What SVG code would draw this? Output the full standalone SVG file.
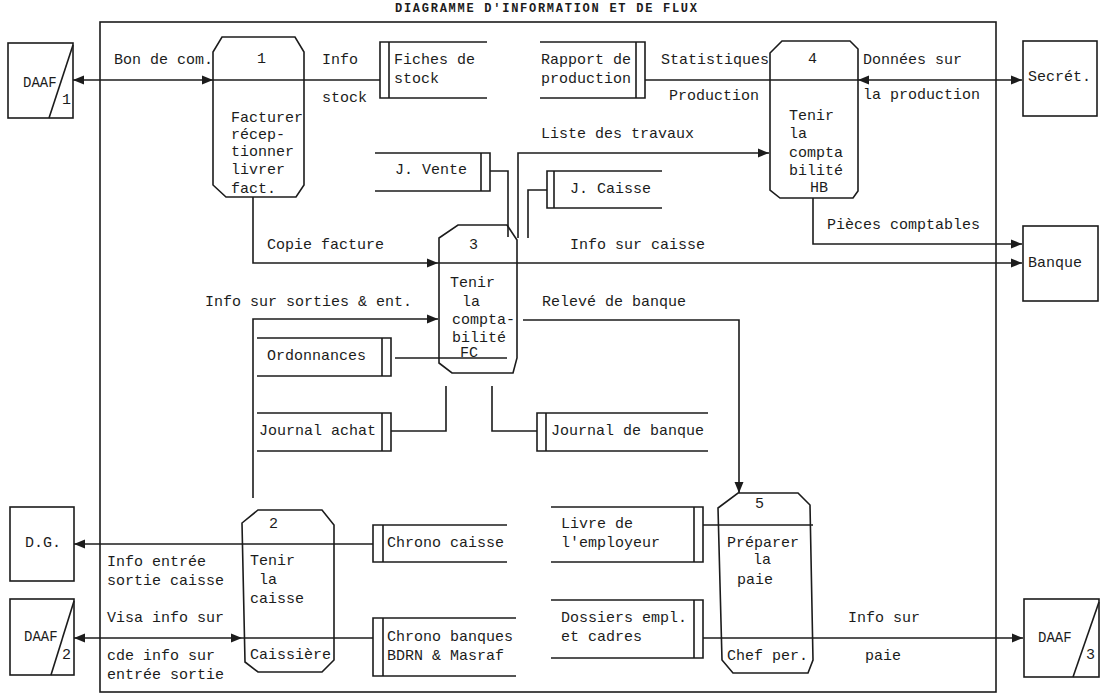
<svg xmlns="http://www.w3.org/2000/svg" width="1116" height="695" viewBox="0 0 1116 695">
<style>
.ln{fill:none;stroke:#1c1c1c;stroke-width:1.6}
.bx{fill:#fff;stroke:#1c1c1c;stroke-width:1.6}
.t{font-family:"Liberation Mono","DejaVu Sans Mono",monospace;font-size:15px;fill:#1c1c1c}
.ti{font-family:"Liberation Mono","DejaVu Sans Mono",monospace;font-size:12px;font-weight:bold;fill:#1c1c1c}
</style>
<defs>
<marker id="ah" markerUnits="userSpaceOnUse" markerWidth="12" markerHeight="10" refX="11" refY="5" orient="auto-start-reverse">
<path d="M0,0.5 L11,5 L0,9.5 Z" fill="#1c1c1c"/>
</marker>
</defs>
<rect width="1116" height="695" fill="#fff"/>
<text class="ti" x="395" y="12" textLength="302" lengthAdjust="spacing">DIAGRAMME D'INFORMATION ET DE FLUX</text>
<rect id="boundary" class="ln" x="100" y="22" width="896" height="670"/>

<g id="connectors">
<path class="ln" d="M73,80 H213" marker-start="url(#ah)" marker-end="url(#ah)"/>
<path class="ln" d="M213,80 H380"/>
<path class="ln" d="M645,80 H858"/>
<path class="ln" d="M858,80 H1022" marker-start="url(#ah)" marker-end="url(#ah)"/>
<path class="ln" d="M518,238 V153 H769" marker-end="url(#ah)"/>
<path class="ln" d="M490,171 H508 V237"/>
<path class="ln" d="M547,190 H528 V238"/>
<path class="ln" d="M253,197 V263 H438" marker-end="url(#ah)"/>
<path class="ln" d="M438,263 H1022" marker-end="url(#ah)"/>
<path class="ln" d="M813,198 V244 H1022" marker-end="url(#ah)"/>
<path class="ln" d="M253,498 V319 H438" marker-end="url(#ah)"/>
<path class="ln" d="M523,320 H739 V493" marker-end="url(#ah)"/>
<path class="ln" d="M395,358 H507"/>
<path class="ln" d="M391,431 H446 V386"/>
<path class="ln" d="M537,431 H492 V386"/>
<path class="ln" d="M373,544 H74" marker-end="url(#ah)"/>
<path class="ln" d="M373,638 H242"/>
<path class="ln" d="M242,638 H74" marker-start="url(#ah)" marker-end="url(#ah)"/>
<path class="ln" d="M703,525 H813"/>
<path class="ln" d="M703,638 H1023" marker-end="url(#ah)"/>
</g>

<g id="labels">
<text class="t" x="114" y="64">Bon de com.</text>
<text class="t" x="322" y="64">Info</text>
<text class="t" x="322" y="102">stock</text>
<text class="t" x="661" y="64">Statistiques</text>
<text class="t" x="669" y="100">Production</text>
<text class="t" x="863" y="64">Données sur</text>
<text class="t" x="863" y="99">la production</text>
<text class="t" x="541" y="138">Liste des travaux</text>
<text class="t" x="267" y="249">Copie facture</text>
<text class="t" x="570" y="249">Info sur caisse</text>
<text class="t" x="827" y="229">Pièces comptables</text>
<text class="t" x="205" y="306">Info sur sorties &amp; ent.</text>
<text class="t" x="542" y="306">Relevé de banque</text>
<text class="t" x="107" y="566">Info entrée</text>
<text class="t" x="107" y="585">sortie caisse</text>
<text class="t" x="107" y="622">Visa info sur</text>
<text class="t" x="107" y="660">cde info sur</text>
<text class="t" x="107" y="679">entrée sortie</text>
<text class="t" x="848" y="622">Info sur</text>
<text class="t" x="865" y="660">paie</text>
</g>

<g id="ext-daaf1">
<rect class="ln" x="8" y="43" width="65" height="75"/>
<path class="ln" d="M73,45 L49,118"/>
<text class="t" x="23" y="87" style="font-size:14px">DAAF</text>
<text class="t" x="62" y="104">1</text>
</g>
<g id="ext-secret">
<rect class="ln" x="1023" y="41" width="74" height="75"/>
<text class="t" x="1028" y="81">Secrét.</text>
</g>
<g id="ext-banque">
<rect class="ln" x="1023" y="226" width="75" height="75"/>
<text class="t" x="1028" y="267">Banque</text>
</g>
<g id="ext-dg">
<rect class="ln" x="10" y="507" width="64" height="74"/>
<text class="t" x="25" y="547">D.G.</text>
</g>
<g id="ext-daaf2">
<rect class="ln" x="10" y="599" width="64" height="76"/>
<path class="ln" d="M74,601 L51,675"/>
<text class="t" x="24" y="641" style="font-size:14px">DAAF</text>
<text class="t" x="62" y="659">2</text>
</g>
<g id="ext-daaf3">
<rect class="ln" x="1024" y="599" width="75" height="78"/>
<path class="ln" d="M1099,602 L1073,677"/>
<text class="t" x="1038" y="642" style="font-size:14px">DAAF</text>
<text class="t" x="1086" y="659">3</text>
</g>

<g id="proc1">
<polygon class="ln" points="222,37 295,37 304,52 304,185 296,197 226,197 213,185 213,52"/>
<text class="t" x="257" y="63">1</text>
<text class="t" x="231" y="122">Facturer</text>
<text class="t" x="231" y="139">récep-</text>
<text class="t" x="231" y="156">tionner</text>
<text class="t" x="231" y="174">livrer</text>
<text class="t" x="231" y="193">fact.</text>
</g>
<g id="proc4">
<polygon class="ln" points="782,41 850,41 858,49 858,191 853,198 780,198 770,190 770,53"/>
<text class="t" x="808" y="63">4</text>
<text class="t" x="789" y="120">Tenir</text>
<text class="t" x="789" y="138">la</text>
<text class="t" x="789" y="157">compta</text>
<text class="t" x="789" y="175">bilité</text>
<text class="t" x="810" y="192">HB</text>
</g>
<g id="proc3">
<polygon class="ln" points="458,225 507,225 517,240 517,358 513,373 452,373 439,363 439,238"/>
<text class="t" x="469" y="249">3</text>
<text class="t" x="450" y="287">Tenir</text>
<text class="t" x="462" y="306">la</text>
<text class="t" x="452" y="324">compta-</text>
<text class="t" x="452" y="342">bilité</text>
<text class="t" x="460" y="357">FC</text>
</g>
<g id="proc2">
<polygon class="ln" points="258,510 322,510 334,525 334,660 322,672 258,672 245,662 242,523"/>
<text class="t" x="269" y="528">2</text>
<text class="t" x="250" y="565">Tenir</text>
<text class="t" x="259" y="584">la</text>
<text class="t" x="250" y="603">caisse</text>
<text class="t" x="250" y="659">Caissière</text>
</g>
<g id="proc5">
<polygon class="ln" points="738,493 798,493 810,505 813,660 808,673 733,673 722,660 718,508"/>
<text class="t" x="755" y="508">5</text>
<text class="t" x="727" y="547">Préparer</text>
<text class="t" x="753" y="564">la</text>
<text class="t" x="737" y="584">paie</text>
<text class="t" x="727" y="660">Chef per.</text>
</g>

<g id="store-fiches">
<path class="ln" d="M487,42 H380 V98 H487 M389,42 V98"/>
<text class="t" x="394" y="64">Fiches de</text>
<text class="t" x="394" y="83">stock</text>
</g>
<g id="store-rapport">
<path class="ln" d="M540,42 H645 V98 H540 M636,42 V98"/>
<text class="t" x="541" y="64">Rapport de</text>
<text class="t" x="541" y="83">production</text>
</g>
<g id="store-jvente">
<path class="ln" d="M375,153 H490 V191 H375 M481,153 V191"/>
<text class="t" x="395" y="174">J. Vente</text>
</g>
<g id="store-jcaisse">
<path class="ln" d="M662,171 H547 V208 H662 M554,171 V208"/>
<text class="t" x="570" y="193">J. Caisse</text>
</g>
<g id="store-ordonnances">
<path class="ln" d="M257,338 H391 V376 H257 M382,338 V376"/>
<text class="t" x="267" y="360">Ordonnances</text>
</g>
<g id="store-jachat">
<path class="ln" d="M257,413 H391 V451 H257 M382,413 V451"/>
<text class="t" x="259" y="435">Journal achat</text>
</g>
<g id="store-jbanque">
<path class="ln" d="M708,413 H537 V451 H708 M546,413 V451"/>
<text class="t" x="551" y="435">Journal de banque</text>
</g>
<g id="store-chronocaisse">
<path class="ln" d="M507,525 H373 V562 H507 M383,525 V562"/>
<text class="t" x="387" y="547">Chrono caisse</text>
</g>
<g id="store-chronobanques">
<path class="ln" d="M516,618 H373 V676 H516 M383,618 V676"/>
<text class="t" x="387" y="641">Chrono banques</text>
<text class="t" x="387" y="660">BDRN &amp; Masraf</text>
</g>
<g id="store-livre">
<path class="ln" d="M551,507 H703 V562 H551 M694,507 V562"/>
<text class="t" x="561" y="528">Livre de</text>
<text class="t" x="561" y="547">l'employeur</text>
</g>
<g id="store-dossiers">
<path class="ln" d="M551,600 H703 V658 H551 M694,600 V658"/>
<text class="t" x="561" y="622">Dossiers empl.</text>
<text class="t" x="561" y="641">et cadres</text>
</g>
</svg>
